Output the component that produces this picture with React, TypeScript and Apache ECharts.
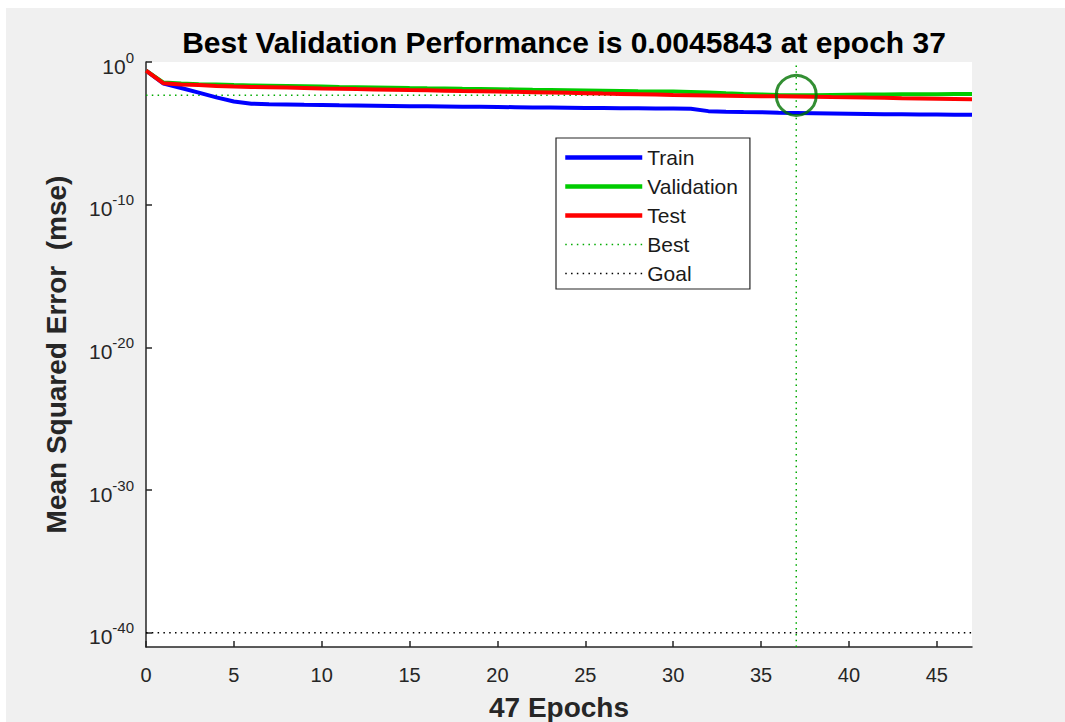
import React, { useEffect, useRef } from "react";
import * as echarts from "echarts";

const TITLE = "Best Validation Performance is 0.0045843 at epoch 37";
const X_NAME = "47 Epochs";
const Y_NAME = "Mean Squared Error  (mse)";

const TRAIN = [
  0.25, 0.031, 0.015, 0.0072, 0.0033, 0.0017, 0.0012, 0.0011, 0.00105, 0.001,
  0.00096, 0.00092, 0.00089, 0.00086, 0.00083, 0.0008, 0.00078, 0.00076, 0.00074, 0.00072,
  0.0007, 0.00068, 0.00066, 0.00064, 0.00062, 0.0006, 0.00059, 0.00058, 0.00057, 0.00056,
  0.00055, 0.00052, 0.00036, 0.00033, 0.00031, 0.0003, 0.00028, 0.00027, 0.00026, 0.00025,
  0.00024, 0.00023, 0.00022, 0.00022, 0.00021, 0.00021, 0.0002, 0.0002,
];

const VALIDATION = [
  0.25, 0.036, 0.031, 0.028, 0.026, 0.024, 0.023, 0.022, 0.021, 0.02,
  0.019, 0.018, 0.0172, 0.0165, 0.0158, 0.0151, 0.0145, 0.014, 0.0134, 0.0129,
  0.0124, 0.0119, 0.0114, 0.011, 0.0106, 0.0102, 0.0098, 0.0094, 0.009, 0.0087,
  0.0084, 0.0079, 0.0072, 0.0064, 0.0058, 0.0053, 0.0049, 0.0045843, 0.0047, 0.0049,
  0.0051, 0.0052, 0.0053, 0.0054, 0.0055, 0.0056, 0.0057, 0.0058,
];

const TEST = [
  0.25, 0.032, 0.027, 0.024, 0.021, 0.019, 0.018, 0.017, 0.016, 0.015,
  0.014, 0.0133, 0.0126, 0.012, 0.0114, 0.0108, 0.0103, 0.0098, 0.0093, 0.0089,
  0.0085, 0.0081, 0.0077, 0.0073, 0.0069, 0.0065, 0.0061, 0.0058, 0.0055, 0.0052,
  0.0049, 0.0047, 0.0045, 0.0043, 0.0041, 0.004, 0.0039, 0.0038, 0.0037, 0.0035,
  0.0034, 0.0032, 0.0031, 0.0029, 0.0028, 0.0027, 0.0026, 0.0025,
];

const BEST_EPOCH = 37;
const BEST_VALUE = 0.0045843;
const GOAL = 1e-40;
const X_MIN = 0;
const X_MAX = 47;
const Y_MIN = 1e-41;
const Y_MAX = 1;
const X_TICKS = [0, 5, 10, 15, 20, 25, 30, 35, 40, 45];
const Y_TICKS = [1, 1e-10, 1e-20, 1e-30, 1e-40];

const FONT = "'Liberation Sans', Arial, Helvetica, sans-serif";
const AXIS_COLOR = "#262626";
const DOT: number[] = [1.5, 4.3];

export default function App() {
  const ref = useRef<HTMLDivElement>(null);

  useEffect(() => {
    if (!ref.current) return;
    const chart = echarts.init(ref.current, undefined, { renderer: "svg" });
    const pairs = (arr: number[]) => arr.map((v, i) => [i, v]);

    chart.setOption({
      animation: false,
      backgroundColor: "transparent",
      textStyle: { fontFamily: FONT },
      title: {
        text: TITLE,
        left: 559,
        textAlign: "center",
        top: 22,
        textStyle: { fontFamily: FONT, fontSize: 30, fontWeight: "bold", color: "#000" },
      },
      grid: {
        left: 146,
        right: 93,
        top: 62,
        bottom: 75,
        show: true,
        backgroundColor: "#ffffff",
        borderWidth: 0,
        containLabel: false,
        outerBoundsMode: "none",
      },
      legend: {
        data: [
          { name: "Train", lineStyle: { width: 4.5 } },
          { name: "Validation", lineStyle: { width: 4.5 } },
          { name: "Test", lineStyle: { width: 4.5 } },
          { name: "Best", lineStyle: { width: 1.5 } },
          { name: "Goal", lineStyle: { width: 1.5 } },
        ],
        orient: "vertical",
        left: 556,
        top: 138,
        backgroundColor: "#ffffff",
        borderColor: AXIS_COLOR,
        borderWidth: 1.2,
        borderRadius: 0,
        padding: [9, 12, 5, 7],
        itemWidth: 77,
        itemHeight: 14,
        itemGap: 8,
        selectedMode: false,
        itemStyle: { opacity: 0 },
        textStyle: { fontFamily: FONT, fontSize: 21, color: "#1a1a1a" },
      },
      xAxis: {
        type: "value",
        min: X_MIN,
        max: X_MAX,
        name: X_NAME,
        nameLocation: "middle",
        nameGap: 46,
        nameTextStyle: { fontFamily: FONT, fontSize: 28, fontWeight: "bold", color: AXIS_COLOR },
        axisLine: { show: true, onZero: false, lineStyle: { color: AXIS_COLOR, width: 1.5 } },
        axisTick: { show: true, inside: true, length: 6, customValues: X_TICKS, lineStyle: { color: AXIS_COLOR, width: 1.5 } },
        axisLabel: { customValues: X_TICKS, fontFamily: FONT, fontSize: 20, color: AXIS_COLOR, margin: 18 },
        splitLine: { show: false },
      },
      yAxis: {
        type: "log",
        logBase: 10,
        min: Y_MIN,
        max: Y_MAX,
        name: Y_NAME,
        nameLocation: "middle",
        nameGap: 76,
        nameTextStyle: { fontFamily: FONT, fontSize: 28, fontWeight: "bold", color: AXIS_COLOR },
        axisLine: { show: true, onZero: false, lineStyle: { color: AXIS_COLOR, width: 1.5 } },
        axisTick: { show: true, inside: true, length: 6, customValues: Y_TICKS, lineStyle: { color: AXIS_COLOR, width: 1.5 } },
        axisLabel: {
          customValues: Y_TICKS,
          margin: 12,
          formatter: (v: number) => `{b|10}{s|${Math.round(Math.log10(v))}}`,
          rich: {
            b: { fontFamily: FONT, fontSize: 21, color: AXIS_COLOR, padding: [8, 0, 0, 0] },
            s: { fontFamily: FONT, fontSize: 15, color: AXIS_COLOR, padding: [0, 0, 10, 0] },
          },
        },
        splitLine: { show: false },
      },
      series: [
        {
          name: "Best",
          type: "line",
          symbol: "none",
          data: [[X_MIN, BEST_VALUE], [X_MAX, BEST_VALUE]],
          lineStyle: { color: "#00aa00", width: 1.5, type: DOT },
          itemStyle: { color: "#00aa00" },
          z: 1,
        },
        {
          name: "Best",
          type: "line",
          symbol: "none",
          data: [[BEST_EPOCH, Y_MIN], [BEST_EPOCH, Y_MAX]],
          lineStyle: { color: "#00aa00", width: 1.5, type: DOT },
          itemStyle: { color: "#00aa00" },
          z: 1,
        },
        {
          name: "Goal",
          type: "line",
          symbol: "none",
          data: [[X_MIN, GOAL], [X_MAX, GOAL]],
          lineStyle: { color: "#000000", width: 1.5, type: DOT },
          itemStyle: { color: "#000000" },
          z: 1,
        },
        {
          name: "Train",
          type: "line",
          symbol: "none",
          data: pairs(TRAIN),
          lineStyle: { color: "#0000ff", width: 4 },
          itemStyle: { color: "#0000ff" },
          z: 2,
        },
        {
          name: "Validation",
          type: "line",
          symbol: "none",
          data: pairs(VALIDATION),
          lineStyle: { color: "#00cc00", width: 4 },
          itemStyle: { color: "#00cc00" },
          z: 3,
        },
        {
          name: "Test",
          type: "line",
          symbol: "none",
          data: pairs(TEST),
          lineStyle: { color: "#ff0000", width: 4 },
          itemStyle: { color: "#ff0000" },
          z: 4,
        },
        {
          name: "Best point",
          type: "scatter",
          data: [[BEST_EPOCH, BEST_VALUE]],
          symbol: "circle",
          symbolSize: 40,
          itemStyle: { color: "rgba(0,0,0,0)", borderColor: "#007300", borderWidth: 3 },
          z: 5,
        },
      ],
    });

    return () => chart.dispose();
  }, []);

  return (
    <div style={{ position: "fixed", left: 0, top: 0, width: 1065, height: 722, background: "#ffffff" }}>
      <div style={{ position: "absolute", left: 6, top: 8, right: 0, bottom: 0, background: "#f0f0f0" }} />
      <div ref={ref} style={{ position: "absolute", left: 0, top: 0, width: 1065, height: 722 }} />
    </div>
  );
}
